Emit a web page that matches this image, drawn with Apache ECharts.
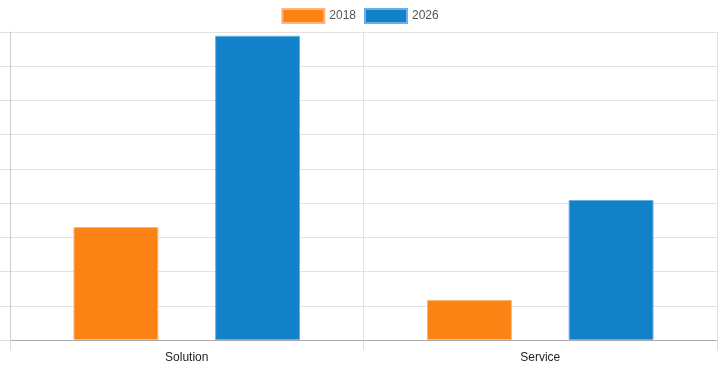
<!DOCTYPE html>
<html>
<head>
<meta charset="utf-8">
<script src="https://cdn.jsdelivr.net/npm/echarts@6/dist/echarts.min.js"></script>
<style>html,body{margin:0;padding:0;background:#fff}#c{width:720px;height:371px}</style>
</head>
<body>
<div id="c"></div>
<script>
const categories = ['Solution', 'Service'];
const seriesNames = ['2018', '2026'];
const values2018 = [3.3, 1.17];
const values2026 = [8.89, 4.09];
const yMax = 9;
const yInterval = 1;

const chart = echarts.init(document.getElementById('c'), null, {renderer: 'canvas'});
chart.setOption({
  animation: false,
  textStyle: {fontFamily: 'Liberation Sans, Arial, sans-serif'},
  legend: {
    top: 3, left: 'center', icon: 'rect',
    itemWidth: 42, itemHeight: 14, itemGap: 8,
    textStyle: {color: '#555', fontSize: 12},
    data: seriesNames
  },
  grid: {left: 10, right: 3, top: 32, bottom: 31, containLabel: false},
  xAxis: {
    type: 'category', data: categories,
    axisLine: {lineStyle: {color: '#aaa'}},
    axisTick: {show: true, length: 10, lineStyle: {color: '#ddd'}},
    splitLine: {show: true, lineStyle: {color: '#e3e3e3'}},
    axisLabel: {color: '#222', fontSize: 12, margin: 12}
  },
  yAxis: {
    type: 'value', min: 0, max: yMax, interval: yInterval,
    axisLine: {show: true, lineStyle: {color: '#ccc'}},
    axisTick: {show: true, length: 12, lineStyle: {color: '#e0e0e0'}},
    axisLabel: {show: false},
    splitLine: {lineStyle: {color: '#e3e3e3'}}
  },
  series: [
    {name: seriesNames[0], type: 'bar', data: values2018, barWidth: '24%', barGap: '67%',
     itemStyle: {color: '#fd8214', borderColor: '#fdb57a', borderWidth: 1}},
    {name: seriesNames[1], type: 'bar', data: values2026, barWidth: '24%', barGap: '67%',
     itemStyle: {color: '#1181ca', borderColor: '#6ab1e3', borderWidth: 1}}
  ]
});
</script>
</body>
</html>
